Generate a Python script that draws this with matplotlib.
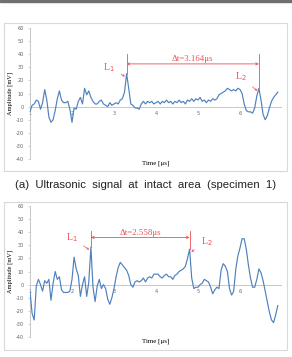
import numpy as np
import matplotlib
matplotlib.use("Agg")
import matplotlib.pyplot as plt
from matplotlib.patches import Rectangle

# time grid shared by both signals [us]
t_start = 1.0
t_step = 0.05

# (a) intact area, amplitude [mV]
amp_top = [
    -4, 1, 2, 5, 4, -2, 3, 13, 5, -8,
    -12, -10, -3, 6, 12, 5, 3, 3, 4, -2,
    -12, -1, -2, 4, 7, 2, 14, 9, 12, 7,
    4, 2, 2, 4, 5, 2, 1, 0, 3, 1,
    2, 3, 2, 5, 6, 11, 25, 14, 2, 1,
    -1, -1, -2, 2, 4, 2, 4, 3, 4, 2,
    3, 4, 2, 4, 3, 5, 3, 4, 2, 4,
    3, 5, 3, 4, 2, 5, 4, 6, 4, 6,
    5, 7, 4, 5, 3, 5, 4, 6, 5, 6,
    9, 10, 11, 12, 14, 13, 12, 13, 12, 14,
    13, 10, 2, -3, -4, -4, -5, -1, 8, 14,
    5, -6, -10, -7, -1, 4, 7, 9, 11,
]

# (b) second specimen, amplitude [mV]
amp_bot = [
    -5, -22, -27, -1, 4, 0, -5, 3, 1, 4,
    -12, 1, 10, 4, 6, -4, -6, -6, -6, -5,
    4, 21, 12, 7, -9, 0, 6, -9, 2, 28.6,
    -2, -13, -1, 4, -3, 0, -3, -11, -15, -10,
    -3, 6, 13, 17, 15, 13, 11, 7, 0, -2,
    2, 3, 2, 3, 5, 2, 5, 6, 5, 8,
    8, 8, 6, 5, 7, 8, 6, 6, 4, 7,
    8, 10, 11, 12, 14, 20, 27, 5, -3, -2,
    -2, 0, 1, 4, 3, 2, -2, -7, -4, -2,
    -3, 11, 16, 14, 10, -3, -8, -5, 12, 22,
    28, 35, 35, 27, 15, 5, -2, -2, 4, 12,
    9, 3, -5, -13, -21, -27, -29, -23, -16,
]

# picked arrival times [us] and quoted delays
L1_top, L2_top, dt_top = 3.30, 6.45, "3.164"
L1_bot, L2_bot, dt_bot = 2.45, 4.80, "2.558"

y_ticks = [-40, -30, -20, -10, 0, 10, 20, 30, 40, 50, 60]
x_ticks = [1, 2, 3, 4, 5, 6]

W, H = 292, 357
BLUE = "#4f81bd"
RED = "#ee4f52"
GREY = "#bfbfbf"
SERIF = "Liberation Serif"


def peak(t, a, t0):
    i = int(np.argmin(np.abs(t - t0)))
    return a[i]


def draw_panel(ax, amp, L1, L2, dt_txt, y_arrow, y_top, lab1, lab2, txt_y):
    t = t_start + t_step * np.arange(len(amp))
    a = np.array(amp, dtype=float)

    ax.axhline(0, color=GREY, lw=0.6, zorder=1)
    ax.plot(t, a, color=BLUE, lw=0.85, zorder=3)

    ax.set_xlim(1, 7)
    ax.set_ylim(-40, 60)
    for s in ["top", "right", "bottom"]:
        ax.spines[s].set_visible(False)
    ax.spines["left"].set_color(GREY)
    ax.spines["left"].set_linewidth(0.6)
    ax.set_yticks(y_ticks)
    ax.set_yticklabels([str(v) for v in y_ticks], fontsize=3.6, color="#666666")
    ax.tick_params(axis="y", length=1.5, width=0.5, color=GREY, pad=3)
    ax.set_xticks([])
    for xt in x_ticks:
        ax.text(xt, -3.5, str(xt), fontsize=3.6, color="#666666",
                ha="center", va="top", zorder=2)

    ax.set_ylabel("Amplitude [mV]", fontsize=4.6, family=SERIF, labelpad=2)
    ax.text(0.5, -0.015, "Time [\u03bcs]", transform=ax.transAxes,
            fontsize=5, family=SERIF, ha="center", va="top")

    # markers for the two arrivals
    p1 = peak(t, a, L1)
    p2 = peak(t, a, L2)
    ax.plot([L1, L1], [p1, y_top], color=RED, lw=0.6, zorder=4)
    ax.plot([L2, L2], [p2, y_top], color=RED, lw=0.6, zorder=4)
    ax.annotate("", xy=(L2, y_arrow), xytext=(L1, y_arrow),
                arrowprops=dict(arrowstyle="<->", color=RED, lw=0.6,
                                mutation_scale=4, shrinkA=0, shrinkB=0))
    ax.text((L1 + L2) / 2, txt_y, "\u0394t=" + dt_txt + "\u03bcs", color=RED,
            fontsize=6.4, family=SERIF, ha="center", va="center")

    for name, (tx, ty), (px, py) in [("L$_1$", lab1, (L1 - 0.04, p1 - 2)),
                                    ("L$_2$", lab2, (L2 + (0.04 if lab2[0] > L2 else -0.04), p2 - 2))]:
        ax.annotate(name, xy=(px, py), xytext=(tx, ty), color=RED,
                    fontsize=7, family=SERIF, ha="center", va="center",
                    arrowprops=dict(arrowstyle="->", color=RED, lw=0.5,
                                    mutation_scale=3, shrinkA=3, shrinkB=0))


fig = plt.figure(figsize=(W / 100, H / 100), dpi=100)

# thin dark rule at the very top
fig.patches.append(Rectangle((0, 1 - 1.5 / H), 1, 1.5 / H, transform=fig.transFigure,
                             color="#6f6f6f", zorder=0))
# light frames round the two charts
for y0, y1 in [(23, 171), (202, 350)]:
    fig.patches.append(Rectangle((4 / W, 1 - y1 / H), 283 / W, (y1 - y0) / H,
                                 transform=fig.transFigure, fill=False,
                                 edgecolor="#d9d9d9", lw=0.8))

ax1 = fig.add_axes([30 / W, 1 - 159 / H, 252 / W, 131 / H])
draw_panel(ax1, amp_top, L1_top, L2_top, dt_top, y_arrow=32.6, y_top=40.5,
           lab1=(2.88, 30), lab2=(6.02, 23), txt_y=36.5)

ax2 = fig.add_axes([30 / W, 1 - 337 / H, 252 / W, 131 / H])
draw_panel(ax2, amp_bot, L1_bot, L2_bot, dt_bot, y_arrow=36, y_top=41,
           lab1=(1.99, 36), lab2=(5.2, 33), txt_y=39.5)

fig.text(0.5, 1 - 185 / H, "(a)  Ultrasonic  signal  at  intact  area  (specimen  1)",
         fontsize=8.2, family="Liberation Sans", color="#222222",
         ha="center", va="center")

fig.savefig("out.png", dpi=100)
